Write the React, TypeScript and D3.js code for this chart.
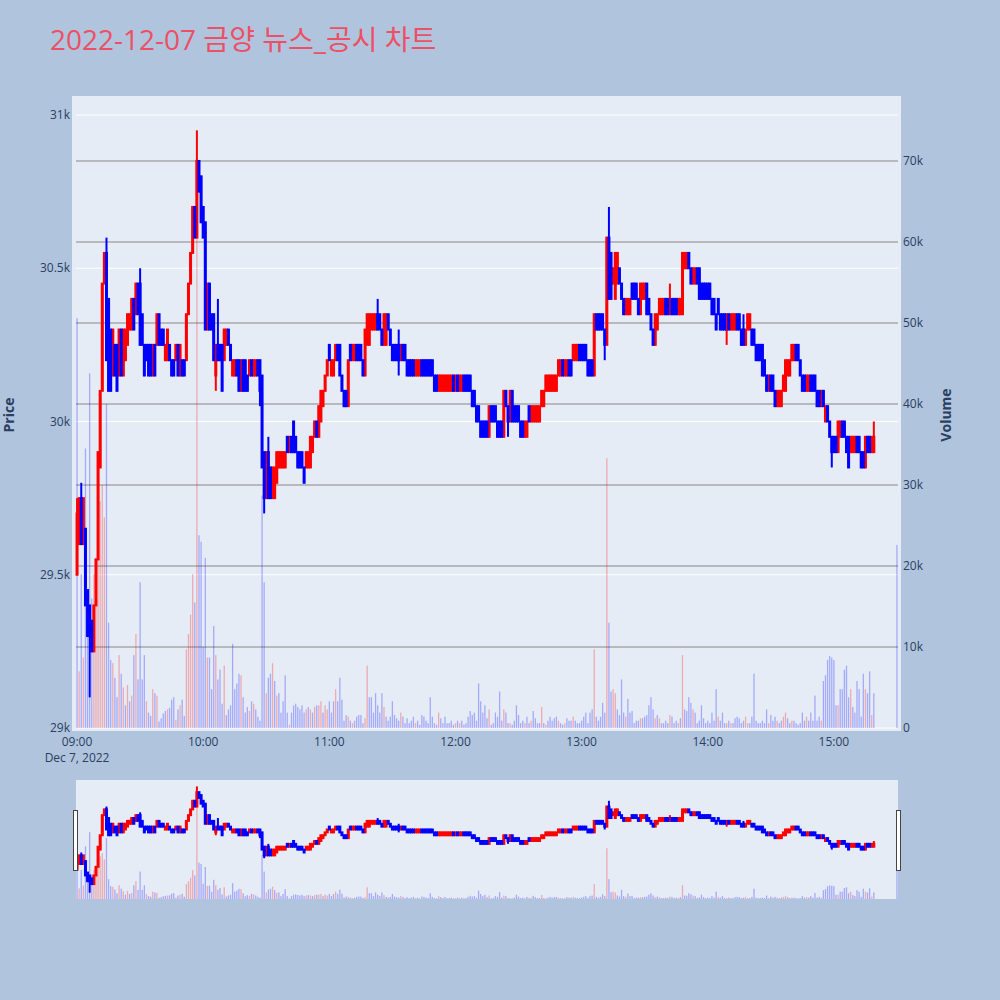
import * as d3 from "d3";

const TITLE = "2022-12-07 금양 뉴스_공시 차트";
const DATE_LABEL = "Dec 7, 2022";

// 09:00 기준 분 인덱스: 정규장 380분(09:00~15:19) + 15:30 종가 단일가
const minutes = [...d3.range(380), 390];

const opens = [
  29500, 29600, 29750, 29600, 29650, 29450, 29400, 29350, 29250, 29400,
  29550, 29850, 30100, 30450, 30550, 30400, 30300, 30150, 30250, 30250,
  30150, 30300, 30150, 30200, 30250, 30300, 30300, 30400, 30350, 30450,
  30450, 30350, 30250, 30250, 30250, 30250, 30150, 30250, 30250, 30350,
  30300, 30300, 30200, 30200, 30250, 30200, 30200, 30200, 30250, 30150,
  30200, 30200, 30200, 30350, 30450, 30550, 30700, 30600, 30850, 30800,
  30700, 30650, 30300, 30450, 30350, 30350, 30150, 30250, 30250, 30250,
  30200, 30250, 30300, 30250, 30150, 30150, 30200, 30200, 30100, 30200,
  30200, 30150, 30150, 30200, 30150, 30150, 30200, 30200, 30150, 29900,
  29750, 29900, 29850, 29750, 29750, 29800, 29850, 29850, 29850, 29850,
  29950, 29900, 29950, 30000, 29950, 29900, 29900, 29900, 29850, 29850,
  29850, 29850, 29900, 29950, 30000, 29950, 30000, 30050, 30100, 30150,
  30250, 30150, 30150, 30200, 30250, 30250, 30150, 30100, 30100, 30050,
  30250, 30200, 30200, 30250, 30250, 30250, 30200, 30150, 30250, 30250,
  30300, 30300, 30300, 30350, 30350, 30300, 30250, 30250, 30350, 30300,
  30250, 30250, 30250, 30250, 30200, 30250, 30250, 30200, 30200, 30200,
  30200, 30150, 30150, 30150, 30200, 30200, 30200, 30200, 30200, 30200,
  30150, 30150, 30100, 30100, 30100, 30100, 30100, 30100, 30100, 30150,
  30100, 30150, 30100, 30100, 30150, 30150, 30150, 30150, 30100, 30100,
  30050, 30050, 30000, 30000, 30000, 30000, 29950, 30050, 30050, 30050,
  30000, 30000, 30000, 29950, 30100, 30050, 30000, 30100, 30050, 30050,
  30050, 30000, 30000, 29950, 29950, 30050, 30000, 30000, 30000, 30000,
  30000, 30050, 30050, 30100, 30100, 30100, 30100, 30100, 30100, 30150,
  30150, 30200, 30150, 30150, 30200, 30200, 30200, 30200, 30200, 30250,
  30250, 30250, 30250, 30200, 30200, 30200, 30150, 30350, 30350, 30350,
  30350, 30300, 30250, 30600, 30550, 30450, 30400, 30450, 30500, 30450,
  30400, 30350, 30350, 30350, 30450, 30450, 30450, 30400, 30350, 30400,
  30400, 30450, 30400, 30350, 30300, 30250, 30300, 30350, 30350, 30350,
  30400, 30400, 30350, 30400, 30400, 30400, 30350, 30350, 30350, 30500,
  30500, 30550, 30500, 30450, 30450, 30500, 30500, 30450, 30450, 30450,
  30450, 30450, 30400, 30400, 30350, 30400, 30350, 30350, 30350, 30300,
  30350, 30300, 30300, 30300, 30350, 30350, 30300, 30300, 30250, 30300,
  30300, 30300, 30300, 30250, 30250, 30250, 30250, 30200, 30150, 30100,
  30150, 30150, 30100, 30050, 30050, 30050, 30100, 30100, 30150, 30150,
  30200, 30200, 30250, 30250, 30200, 30150, 30150, 30100, 30100, 30150,
  30150, 30150, 30100, 30100, 30050, 30100, 30000, 30050, 30000, 29950,
  29950, 29950, 29900, 29950, 30000, 30000, 29950, 29950, 29900, 29900,
  29900, 29950, 29950, 29900, 29900, 29850, 29950, 29950, 29900, 29900,
  29950,
];

const closes = [
  29700, 29750, 29600, 29750, 29400, 29300, 29300, 29250, 29400, 29550,
  29900, 30100, 30450, 30550, 30200, 30100, 30100, 30300, 30150, 30100,
  30300, 30150, 30300, 30300, 30350, 30350, 30400, 30300, 30450, 30350,
  30250, 30250, 30150, 30200, 30150, 30150, 30250, 30150, 30350, 30250,
  30250, 30250, 30250, 30300, 30200, 30150, 30150, 30250, 30150, 30250,
  30150, 30150, 30350, 30450, 30550, 30700, 30600, 30850, 30750, 30650,
  30600, 30300, 30450, 30300, 30300, 30200, 30250, 30200, 30200, 30100,
  30300, 30300, 30250, 30200, 30200, 30200, 30150, 30100, 30200, 30100,
  30100, 30100, 30200, 30150, 30200, 30200, 30150, 30100, 29850, 29750,
  29900, 29750, 29750, 29850, 29850, 29900, 29900, 29900, 29900, 29900,
  29900, 29950, 29900, 29900, 29900, 29850, 29850, 29850, 29800, 29900,
  29900, 29950, 29950, 30000, 29950, 30050, 30100, 30100, 30150, 30200,
  30200, 30200, 30200, 30250, 30200, 30150, 30100, 30050, 30050, 30200,
  30200, 30250, 30250, 30200, 30200, 30200, 30150, 30300, 30350, 30350,
  30350, 30350, 30350, 30300, 30300, 30250, 30350, 30350, 30300, 30250,
  30200, 30200, 30200, 30200, 30250, 30200, 30200, 30150, 30150, 30150,
  30150, 30200, 30200, 30200, 30150, 30150, 30150, 30150, 30150, 30150,
  30100, 30100, 30150, 30150, 30150, 30150, 30150, 30150, 30150, 30100,
  30150, 30100, 30150, 30150, 30100, 30100, 30100, 30100, 30050, 30050,
  30000, 30000, 29950, 29950, 29950, 29950, 30050, 30000, 30000, 30000,
  29950, 29950, 29950, 30100, 30050, 30000, 30100, 30000, 30000, 30000,
  30000, 29950, 29950, 30000, 30000, 30000, 30050, 30050, 30050, 30050,
  30050, 30100, 30100, 30150, 30150, 30150, 30150, 30150, 30150, 30200,
  30200, 30150, 30200, 30200, 30150, 30150, 30250, 30250, 30250, 30200,
  30200, 30200, 30200, 30150, 30150, 30150, 30350, 30300, 30300, 30300,
  30300, 30250, 30600, 30400, 30400, 30500, 30550, 30550, 30450, 30400,
  30350, 30400, 30400, 30400, 30400, 30400, 30400, 30350, 30450, 30450,
  30450, 30350, 30350, 30300, 30250, 30350, 30350, 30400, 30400, 30400,
  30350, 30350, 30400, 30350, 30350, 30350, 30400, 30400, 30550, 30550,
  30550, 30500, 30450, 30500, 30500, 30450, 30400, 30400, 30400, 30400,
  30400, 30400, 30350, 30350, 30300, 30350, 30300, 30300, 30300, 30350,
  30300, 30350, 30350, 30350, 30300, 30300, 30250, 30250, 30300, 30350,
  30350, 30250, 30250, 30200, 30200, 30200, 30150, 30150, 30100, 30150,
  30100, 30100, 30050, 30100, 30100, 30100, 30150, 30200, 30200, 30200,
  30250, 30250, 30200, 30200, 30150, 30100, 30100, 30150, 30150, 30100,
  30100, 30100, 30050, 30050, 30100, 30050, 30050, 30000, 29950, 29900,
  29900, 29900, 30000, 30000, 29950, 29950, 29900, 29850, 29950, 29950,
  29950, 29900, 29900, 29850, 29850, 29950, 29900, 29900, 29950, 29950,
  29950,
];

// 거래량 (천 주)
const volumesK = [
  50.6, 7, 19, 8.7, 34.5, 12, 43.8, 16, 19, 21,
  24, 28, 30, 26, 40, 13, 8.4, 8, 6.2, 3.8,
  9, 6.7, 5, 2.8, 5.3, 3.3, 4, 9, 11.6, 6,
  18, 6, 9, 3.3, 1.9, 1.5, 4.8, 4.3, 4, 0.8,
  1.2, 1.8, 2.1, 2.3, 2.5, 3.5, 3.8, 1, 2.3, 2.8,
  3.5, 1.5, 9.7, 11.6, 14, 19, 15.5, 73.6, 23.8, 23,
  10, 21, 8.7, 8.7, 4.8, 12.6, 9, 6, 7.2, 3,
  7.7, 1.6, 2.3, 2.8, 10.4, 4.8, 5.5, 6.7, 6.5, 3.8,
  1.9, 2.6, 2.1, 3.3, 3, 2.3, 1.4, 0.9, 28.7, 18,
  4.3, 6.2, 6.7, 8, 5.8, 4, 4.3, 1.9, 3.3, 6.5,
  1.9, 0.4, 1.9, 2.8, 3, 2.6, 2.3, 2.8, 1.9, 2.3,
  2.6, 2.3, 1.9, 2.6, 2.8, 2.8, 3.3, 1.9, 2.8, 2.3,
  3.3, 1.9, 3.3, 4.8, 3.3, 6.2, 3.5, 0.9, 1.6, 1.4,
  0.9, 0.6, 0.9, 1.4, 1.6, 1.6, 0.6, 1.2, 7.7, 3.8,
  3.8, 1.9, 4.3, 2.8, 1.9, 4.3, 2.6, 1.4, 0.9, 1.4,
  3.3, 1.6, 1.2, 0.9, 1.9, 1.4, 0.6, 1.2, 0.6, 0.9,
  1.4, 0.6, 0.9, 0.4, 1.6, 1.4, 0.9, 0.6, 3.8, 1.4,
  0.6, 0.4, 1.9, 1.2, 0.6, 1.4, 0.6, 0.6, 0.9, 0.4,
  0.6, 0.9, 0.6, 0.9, 0.4, 0.6, 1.4, 2.1, 1.6, 1.9,
  0.9, 5.5, 3.3, 1.9, 2.8, 1.2, 2.3, 0.4, 0.6, 1.9,
  1.4, 4.5, 0.9, 2.3, 1.9, 0.6, 0.6, 0.4, 0.9, 2.8,
  1.6, 0.6, 0.9, 0.6, 1.4, 0.6, 0.9, 2.1, 1.2, 0.6,
  0.6, 2.6, 0.6, 0.4, 0.9, 1.4, 0.9, 1.2, 1.4, 0.9,
  0.6, 0.4, 0.6, 1.2, 0.9, 0.9, 1.4, 0.9, 0.6, 0.6,
  0.9, 1.4, 1.9, 0.6, 1.9, 2.3, 9.7, 1.4, 0.9, 1.4,
  3.1, 1.9, 33.3, 13, 4.5, 4.8, 4.3, 2.3, 1.6, 6,
  1.9, 1.4, 3.6, 1.9, 2.1, 0.6, 0.9, 0.9, 1.2, 1.2,
  1.4, 1.6, 2.8, 3.8, 2.3, 1.2, 1.6, 1.2, 0.6, 0.6,
  0.9, 0.6, 1.6, 1.4, 0.6, 0.9, 0.6, 1.2, 9, 2.3,
  2.1, 3.8, 3.1, 2.3, 1.9, 0.6, 0.9, 2.8, 1.2, 0.6,
  0.9, 0.6, 1.9, 0.9, 4.8, 1.4, 0.9, 1.9, 0.6, 0.6,
  0.9, 0.6, 0.6, 1.2, 1.4, 1.2, 0.6, 0.9, 1.4, 0.6,
  0.6, 1.4, 6.7, 0.9, 0.6, 0.6, 0.9, 0.6, 2.3, 0.6,
  1.6, 0.9, 1.4, 0.9, 0.6, 0.9, 1.4, 1.9, 1.2, 0.6,
  0.9, 0.9, 0.6, 0.4, 0.6, 1.9, 0.9, 1.4, 0.9, 1.9,
  0.9, 4, 0.9, 1.4, 0.9, 5.8, 6.5, 8.4, 8.9, 8.7,
  8.4, 2.8, 2.8, 4.8, 4.8, 7.2, 7.7, 3.8, 4.8, 2.6,
  1.9, 5.8, 4.8, 1.4, 6.7, 4.8, 4.3, 7, 1.6, 4.3,
  22.6,
];

// 몸통 밖으로 나온 꼬리 [캔들 인덱스, 가격]
const highWicks: [number, number][] = [
  [0, 29750], [2, 29800], [14, 30600], [30, 30500], [57, 30950], [67, 30400],
  [91, 29950], [143, 30400], [153, 30300], [253, 30700], [282, 30450],
  [317, 30350], [379, 30000],
];
const lowWicks: [number, number][] = [
  [6, 29100], [66, 30100], [87, 30050], [89, 29700], [153, 30150],
  [205, 29950], [251, 30200], [309, 30250], [359, 29850],
];

const priceTicks = [29000, 29500, 30000, 30500, 31000];
const priceTickLabels = ["29k", "29.5k", "30k", "30.5k", "31k"];
const volumeTicks = [0, 10, 20, 30, 40, 50, 60, 70];
const timeTicks = [0, 60, 120, 180, 240, 300, 360];
const timeTickLabels = ["09:00", "10:00", "11:00", "12:00", "13:00", "14:00", "15:00"];

const UP = "#ff0000";
const DOWN = "#0000ff";
const FONT = "'Open Sans', 'Noto Sans CJK KR', verdana, arial, sans-serif";
const TICK_COLOR = "#2a3f5f";

type Candle = {
  m: number;
  o: number;
  c: number;
  hi: number;
  lo: number;
  up: boolean;
  vol: number;
  volUp: boolean;
};

const highMap = new Map(highWicks);
const lowMap = new Map(lowWicks);

const candles: Candle[] = minutes.map((m, i) => {
  const o = opens[i];
  const c = closes[i];
  const prev = i > 0 ? closes[i - 1] : undefined;
  return {
    m,
    o,
    c,
    hi: highMap.get(i) ?? Math.max(o, c),
    lo: lowMap.get(i) ?? Math.min(o, c),
    // 시가=종가이면 직전 종가와 비교
    up: c > o || (c === o && prev !== undefined && c >= prev),
    vol: volumesK[i],
    volUp: prev !== undefined && c > prev,
  };
});

const BODY_W = 1;
const BAR_W = 1.3;

function Candles({
  x,
  y,
  yv,
}: {
  x: d3.ScaleLinear<number, number>;
  y: d3.ScaleLinear<number, number>;
  yv: d3.ScaleLinear<number, number>;
}) {
  const ordered = [...candles.filter((d) => d.up), ...candles.filter((d) => !d.up)];
  return (
    <g>
      {candles.map((d, i) => (
        <rect
          key={`v${i}`}
          x={x(d.m) - BAR_W / 2}
          width={BAR_W}
          y={yv(d.vol)}
          height={yv(0) - yv(d.vol)}
          fill={d.volUp ? UP : DOWN}
          opacity={0.28}
        />
      ))}
      {ordered.map((d, i) => {
        const color = d.up ? UP : DOWN;
        const cx = x(d.m);
        const top = y(Math.max(d.o, d.c));
        const bottom = y(Math.min(d.o, d.c));
        return (
          <g key={`c${i}`} stroke={color} strokeWidth={2}>
            <line x1={cx} x2={cx} y1={y(d.hi)} y2={y(d.lo)} />
            <rect x={cx - BODY_W / 2} width={BODY_W} y={top} height={bottom - top} fill={color} />
          </g>
        );
      })}
    </g>
  );
}

export default function App() {
  const x = d3.scaleLinear().domain([-0.5, 390.5]).range([76, 898]);
  const y = d3.scaleLinear().domain([29000, 31000]).range([728, 115]);
  const yv = d3.scaleLinear().domain([0, 70]).range([728, 161]);

  // 레인지 슬라이더용 축소 스케일
  const ys = d3.scaleLinear().domain([28990, 31062]).range([899, 780]);
  const yvs = d3.scaleLinear().domain([0, 78]).range([899, 780]);

  return (
    <div style={{ position: "absolute", left: 0, top: 0 }}>
      <svg width={1000} height={1000} style={{ display: "block" }} fontFamily={FONT}>
        <rect width={1000} height={1000} fill="#b0c4de" />
        <text x={50} y={50} fontSize={28} fill="rgb(237,80,100)">
          {TITLE}
        </text>

        <rect x={72} y={96} width={829} height={635} fill="#e5ecf6" />

        {priceTicks.map((t) => (
          <line key={`pg${t}`} x1={76} x2={898} y1={y(t)} y2={y(t)} stroke="#fff" strokeWidth={1.2} />
        ))}
        {volumeTicks
          .filter((t) => t > 0)
          .map((t) => (
            <line key={`vg${t}`} x1={76} x2={898} y1={yv(t)} y2={yv(t)} stroke="#a9a9a9" strokeWidth={1.6} />
          ))}

        <Candles x={x} y={y} yv={yv} />

        {priceTicks.map((t, i) => (
          <text key={`pt${t}`} x={70} y={y(t)} dy="0.35em" textAnchor="end" fontSize={12} fill={TICK_COLOR}>
            {priceTickLabels[i]}
          </text>
        ))}
        {volumeTicks.map((t) => (
          <text key={`vt${t}`} x={903} y={yv(t)} dy="0.35em" textAnchor="start" fontSize={12} fill={TICK_COLOR}>
            {t === 0 ? "0" : `${t}k`}
          </text>
        ))}
        {timeTicks.map((t, i) => (
          <text key={`tt${t}`} x={x(t)} y={746} textAnchor="middle" fontSize={12} fill={TICK_COLOR}>
            {timeTickLabels[i]}
          </text>
        ))}
        <text x={x(0)} y={762} textAnchor="middle" fontSize={12} fill={TICK_COLOR}>
          {DATE_LABEL}
        </text>

        <text
          transform="translate(14,415) rotate(-90)"
          textAnchor="middle"
          fontSize={14}
          fontWeight="bold"
          fill={TICK_COLOR}
        >
          Price
        </text>
        <text
          transform="translate(951,415) rotate(-90)"
          textAnchor="middle"
          fontSize={14}
          fontWeight="bold"
          fill={TICK_COLOR}
        >
          Volume
        </text>

        {/* 레인지 슬라이더 */}
        <rect x={76} y={780} width={822} height={119} fill="#e5ecf6" />
        <Candles x={x} y={ys} yv={yvs} />
        <rect x={73.5} y={810.5} width={4} height={60} fill="#fff" stroke="#444" strokeWidth={1} />
        <rect x={896.5} y={810.5} width={4} height={60} fill="#fff" stroke="#444" strokeWidth={1} />
      </svg>
    </div>
  );
}
